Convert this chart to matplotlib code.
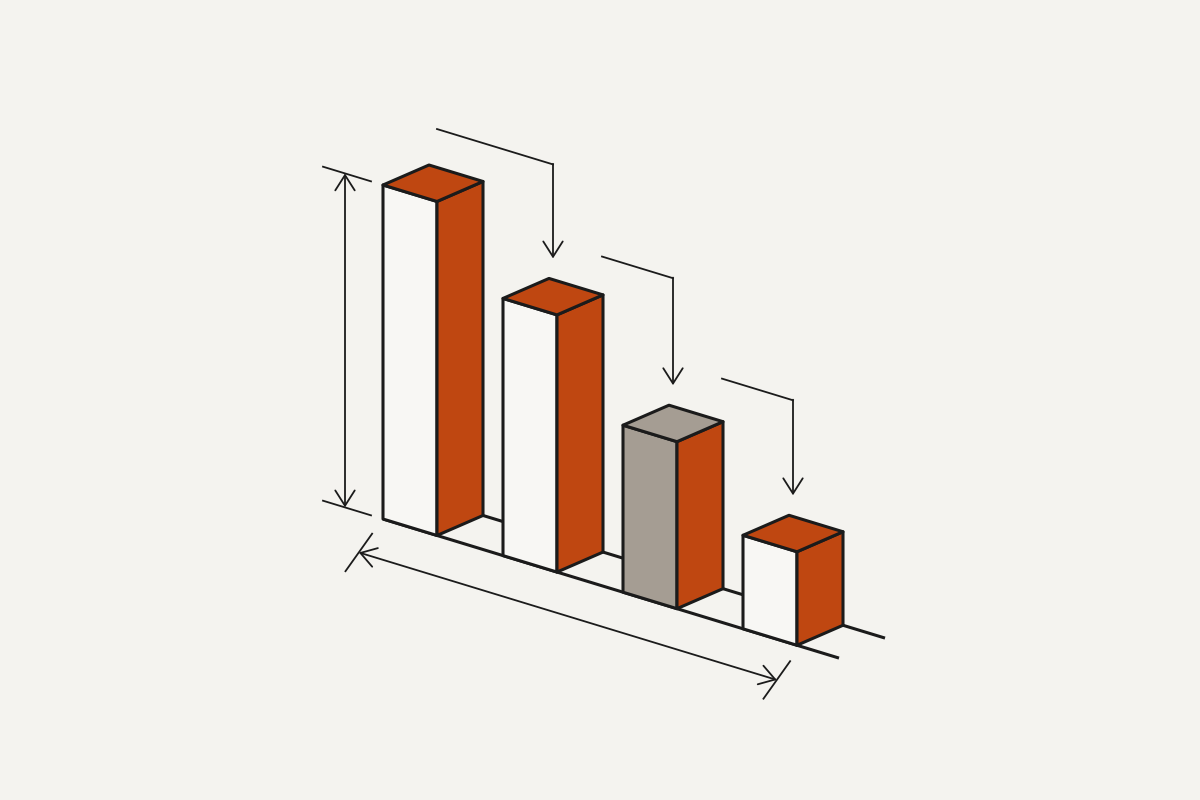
import numpy as np
import matplotlib
matplotlib.use("Agg")
import matplotlib.pyplot as plt
from matplotlib.patches import Polygon

# Data
categories = ["A", "B", "C", "D"]
values = [100, 77, 50, 28]
front_colors = ["#f8f7f4", "#f8f7f4", "#a59d93", "#f8f7f4"]

# Colours
BG = "#f4f3ef"
ORANGE = "#bf4711"
INK = "#1b1b1b"

# Layout (pixel space of the 1200x800 canvas)
ORIGIN = (383, 519)      # front-left bottom corner of the first bar
SLOPE = 0.305            # baseline drop per px to the right
DEPTH = (46, -20)        # depth vector of the boxes
SCALE = 3.34             # px per value unit
BAR_W = 54
STEP = 120
FLOOR_LEN = 456

# callout arrows between bar tops: horizontal run and vertical drop
callout_run = [116, 71, 71]
callout_drop = [94, 107, 95]


def proj(u, v=0.0, h=0.0):
    """u along the baseline, v depth fraction, h height in px."""
    x = ORIGIN[0] + u + v * DEPTH[0]
    y = ORIGIN[1] + u * SLOPE + v * DEPTH[1] - h
    return x, y


def arrow(ax, p0, p1, style="->", lw=1.3):
    ax.annotate("", xy=p1, xytext=p0,
                arrowprops=dict(arrowstyle=style + ",head_length=1.1,head_width=0.7",
                                color=INK, lw=lw, shrinkA=0, shrinkB=0),
                zorder=5)


def main():
    fig = plt.figure(figsize=(12, 8), dpi=100, facecolor=BG)
    ax = fig.add_axes([0, 0, 1, 1])
    ax.set_xlim(0, 1200)
    ax.set_ylim(800, 0)
    ax.set_facecolor(BG)
    ax.axis("off")

    # floor strip
    for v in (0, 1):
        p0, p1 = proj(0, v), proj(FLOOR_LEN, v)
        ax.plot([p0[0], p1[0]], [p0[1], p1[1]], color=INK, lw=2.2,
                solid_capstyle="butt", zorder=1)

    # bars
    heights = [val * SCALE for val in values]
    for i, h in enumerate(heights):
        u = i * STEP
        front = [proj(u, 0, 0), proj(u + BAR_W, 0, 0), proj(u + BAR_W, 0, h), proj(u, 0, h)]
        side = [proj(u + BAR_W, 0, 0), proj(u + BAR_W, 1, 0), proj(u + BAR_W, 1, h), proj(u + BAR_W, 0, h)]
        top = [proj(u, 0, h), proj(u + BAR_W, 0, h), proj(u + BAR_W, 1, h), proj(u, 1, h)]
        top_col = front_colors[i] if front_colors[i] != "#f8f7f4" else ORANGE
        for pts, col in ((front, front_colors[i]), (side, ORANGE), (top, top_col)):
            ax.add_patch(Polygon(pts, closed=True, facecolor=col, edgecolor=INK,
                                 lw=2.2, joinstyle="round", zorder=2 + i))

    # vertical dimension arrow
    u_dim = -38
    arrow(ax, proj(u_dim, 0, 0), proj(u_dim, 0, heights[0]), style="<->")
    for h in (0, heights[0]):
        a, b = proj(u_dim - 22, 0, h), proj(u_dim + 26, 0, h)
        ax.plot([a[0], b[0]], [a[1], b[1]], color=INK, lw=1.3, zorder=5)

    # horizontal dimension arrow
    s, e = proj(31, -1.2), proj(449, -1.2)
    arrow(ax, s, e, style="<->")
    tick = np.array([0.579, -0.815]) * 23
    for p in (s, e):
        ax.plot([p[0] - tick[0], p[0] + tick[0]], [p[1] - tick[1], p[1] + tick[1]],
                color=INK, lw=1.3, zorder=5)

    # callouts from one bar top to the next
    for i in range(len(values) - 1):
        j = i + 1
        tip_x = proj(j * STEP + BAR_W / 2, 0.5, heights[j])[0]
        tip_y = proj(j * STEP, 1, heights[j])[1] - 20
        cx, cy = tip_x, tip_y - callout_drop[i]
        sx, sy = cx - callout_run[i], cy - callout_run[i] * SLOPE
        ax.plot([sx, cx], [sy, cy], color=INK, lw=1.3, zorder=5)
        arrow(ax, (cx, cy - 0.6), (tip_x, tip_y))

    fig.savefig("out.png", dpi=100, facecolor=BG)


if __name__ == "__main__":
    main()
